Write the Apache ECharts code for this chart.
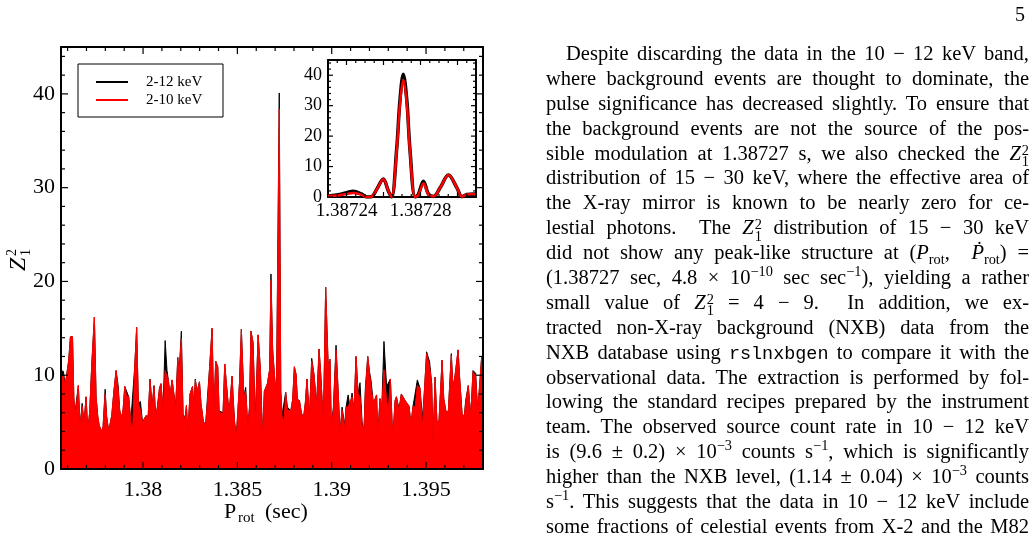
<!DOCTYPE html>
<html>
<head>
<meta charset="UTF-8">
<title>Z1^2 search around 1.387 s</title>
<script src="https://cdn.jsdelivr.net/npm/echarts@6/dist/echarts.min.js"></script>
<style>
  html, body { margin: 0; padding: 0; background: #fff; }
  #page { position: relative; width: 1036px; height: 543px; overflow: hidden; }
  #chart { position: absolute; left: 0; top: 0; width: 1036px; height: 543px; }
  #pageno { position: absolute; left: 1015px; top: 3px; font-family: "Liberation Serif", serif; font-size: 20px; }
  #text { position: absolute; left: 546px; top: 41px; width: 483px; font-family: "Liberation Serif", serif; font-size: 20.5px; color: #000; }
  #text .ln { height: 24.9px; line-height: 24.9px; white-space: nowrap; text-align: justify; text-align-last: justify; }
  #text .first { text-indent: 20px; }
  sup, sub { font-size: 0.7em; line-height: 0; }
  .z .ss { display: inline-block; font-size: 0.7em; line-height: 0.8em; vertical-align: -0.45em; margin-left: 1px; text-align: left; text-indent: 0; }
  .tt { font-family: "Liberation Mono", monospace; font-size: 0.9em; }
</style>
</head>
<body>
<div id="page">
  <div id="chart"></div>
  <div id="pageno">5</div>
  <div id="text">
    <div class="ln first">Despite discarding the data in the 10 − 12 keV band,</div>
    <div class="ln">where background events are thought to dominate, the</div>
    <div class="ln">pulse significance has decreased slightly. To ensure that</div>
    <div class="ln">the background events are not the source of the pos-</div>
    <div class="ln">sible modulation at 1.38727 s, we also checked the <span class="z"><i>Z</i><span class="ss">2<br>1</span></span></div>
    <div class="ln">distribution of 15 − 30 keV, where the effective area of</div>
    <div class="ln">the X-ray mirror is known to be nearly zero for ce-</div>
    <div class="ln">lestial photons.&nbsp; The <span class="z"><i>Z</i><span class="ss">2<br>1</span></span> distribution of 15 − 30 keV</div>
    <div class="ln">did not show any peak-like structure at (<i>P</i><sub>rot</sub>,&nbsp; <i>Ṗ</i><sub>rot</sub>) =</div>
    <div class="ln">(1.38727 sec, 4.8 × 10<sup>−10</sup> sec sec<sup>−1</sup>), yielding a rather</div>
    <div class="ln">small value of <span class="z"><i>Z</i><span class="ss">2<br>1</span></span> = 4 − 9.&nbsp; In addition, we ex-</div>
    <div class="ln">tracted non-X-ray background (NXB) data from the</div>
    <div class="ln">NXB database using <span class="tt">rslnxbgen</span> to compare it with the</div>
    <div class="ln">observational data. The extraction is performed by fol-</div>
    <div class="ln">lowing the standard recipes prepared by the instrument</div>
    <div class="ln">team. The observed source count rate in 10 − 12 keV</div>
    <div class="ln">is (9.6 ± 0.2) × 10<sup>−3</sup> counts s<sup>−1</sup>, which is significantly</div>
    <div class="ln">higher than the NXB level, (1.14 ± 0.04) × 10<sup>−3</sup> counts</div>
    <div class="ln">s<sup>−1</sup>. This suggests that the data in 10 − 12 keV include</div>
    <div class="ln">some fractions of celestial events from X-2 and the M82</div>
  </div>
</div>

<script>
    // main scan: trial period (s) and Z1^2
    var periods = [
        1.37567, 1.37578, 1.37587, 1.37597, 1.37606, 1.37615, 1.37626, 1.37633, 1.37638, 1.37647,
        1.37657, 1.37666, 1.37677, 1.37687, 1.37698, 1.37707, 1.37717, 1.37728, 1.37742, 1.37751,
        1.37760, 1.37767, 1.37779, 1.37788, 1.37799, 1.37807, 1.37818, 1.37827, 1.37834, 1.37845,
        1.37857, 1.37868, 1.37876, 1.37885, 1.37894, 1.37903, 1.37913, 1.37924, 1.37935, 1.37945,
        1.37956, 1.37966, 1.37975, 1.37986, 1.37997, 1.38005, 1.38016, 1.38027, 1.38037, 1.38048,
        1.38058, 1.38067, 1.38076, 1.38087, 1.38095, 1.38106, 1.38117, 1.38127,
        1.38134, 1.38143, 1.38154, 1.38164, 1.38173, 1.38184, 1.38191, 1.38203, 1.38212, 1.38223,
        1.38230, 1.38237, 1.38249, 1.38262, 1.38269, 1.38277, 1.38286, 1.38299, 1.38307, 1.38320,
        1.38332, 1.38343, 1.38353, 1.38366, 1.38375, 1.38385, 1.38396, 1.38403, 1.38413, 1.38424,
        1.38433, 1.38443, 1.38456, 1.38472, 1.38479, 1.38486, 1.38495, 1.38502, 1.38511, 1.38521,
        1.38534, 1.38544, 1.38555, 1.38564, 1.38572, 1.38583, 1.38595, 1.38610, 1.38622, 1.38633,
        1.38643, 1.38659, 1.38671,
        1.38678, 1.38687, 1.38698, 1.38707, 1.38722, 1.38730, 1.38737, 1.38747, 1.38756, 1.38765,
        1.38772, 1.38783, 1.38793, 1.38802, 1.38811, 1.38818, 1.38829, 1.38839, 1.38850, 1.38860,
        1.38869, 1.38882, 1.38894, 1.38906, 1.38920, 1.38933, 1.38942, 1.38949, 1.38956, 1.38968,
        1.38981, 1.38991, 1.38998, 1.39009, 1.39023, 1.39034, 1.39044, 1.39055, 1.39069, 1.39076,
        1.39087, 1.39097, 1.39108, 1.39118, 1.39129, 1.39140, 1.39150, 1.39161, 1.39171, 1.39178,
        1.39191, 1.39200, 1.39208, 1.39221, 1.39238,
        1.39244, 1.39256, 1.39265, 1.39277, 1.39291, 1.39300, 1.39311, 1.39322, 1.39329, 1.39336,
        1.39343, 1.39357, 1.39369, 1.39378, 1.39389, 1.39399, 1.39410, 1.39420, 1.39431, 1.39442,
        1.39454, 1.39468, 1.39481, 1.39491, 1.39503, 1.39519, 1.39530, 1.39537, 1.39548, 1.39558,
        1.39569, 1.39585, 1.39594, 1.39606, 1.39618, 1.39634, 1.39643, 1.39654, 1.39670, 1.39678,
        1.39691, 1.39703, 1.39710, 1.39724, 1.39737, 1.39749, 1.39763, 1.39774, 1.39784, 1.39795,
        1.39802
    ];
    // 2-12 keV (black)
    var z2Band212 = [
        10.5, 10.4, 8.9, 8.8, 11.6, 14.1, 14.1, 7.7, 5.7, 7.3,
        8.9, 4.5, 7.0, 4.9, 7.7, 4.0, 6.1, 11.1, 16.2, 7.7,
        5.6, 4.7, 4.0, 4.5, 8.5, 5.6, 4.0, 5.0, 5.7, 8.2,
        10.5, 8.9, 6.3, 5.4, 6.3, 8.8, 8.8, 7.7, 5.0, 5.0,
        11.0, 15.1, 7.0, 7.2, 5.0, 4.9, 5.7, 5.6, 9.6, 6.6,
        8.9, 5.6, 6.6, 8.6, 9.1, 6.3, 13.7, 10.5,
        9.5, 7.9, 9.5, 7.9, 6.8, 11.9, 10.2, 14.7, 5.9, 5.4,
        6.8, 3.8, 8.0, 8.8, 6.6, 9.6, 8.2, 9.3, 7.0, 5.0,
        4.8, 8.1, 10.9, 15.0, 5.6, 11.5, 10.9, 6.2, 6.2, 6.0,
        11.2, 8.8, 5.9, 9.9, 7.0, 4.8, 3.8, 6.0, 9.1, 14.9,
        7.7, 8.7, 4.5, 6.5, 14.7, 13.5, 5.3, 14.3, 10.6, 3.5,
        8.3, 9.1, 10.6,
        20.8, 12.7, 9.6, 7.7, 40.1, 8.4, 5.7, 5.5, 8.2, 6.6,
        6.4, 6.2, 7.4, 10.9, 10.1, 7.4, 7.3, 6.0, 5.4, 7.0,
        9.6, 5.4, 11.8, 10.1, 6.8, 12.8, 10.1, 7.4, 4.8, 19.4,
        11.2, 11.7, 4.4, 6.6, 13.2, 8.4, 3.8, 6.6, 4.6, 6.6,
        7.9, 6.6, 8.1, 6.1, 12.0, 8.0, 9.2, 5.0, 4.0, 8.5,
        12.0, 10.4, 9.5, 7.0, 7.9,
        3.4, 7.5, 6.3, 13.6, 8.8, 8.6, 9.6, 4.0, 4.9, 7.3,
        7.7, 6.4, 8.0, 7.9, 7.3, 7.3, 6.7, 4.7, 6.7, 8.0,
        9.5, 8.6, 5.4, 8.2, 12.5, 11.4, 9.1, 2.6, 9.8, 5.0,
        5.2, 11.6, 7.5, 6.1, 6.1, 12.3, 8.6, 10.0, 12.7, 9.8,
        5.9, 5.6, 7.3, 8.9, 5.6, 10.5, 10.2, 6.1, 8.9, 12.0,
        12.0
    ];
    // 2-10 keV (red)
    var z2Band210 = [
        10.0, 9.9, 8.9, 8.8, 11.6, 14.1, 14.1, 7.7, 5.7, 6.8,
        8.9, 4.5, 6.7, 4.9, 7.7, 4.0, 6.1, 11.1, 16.2, 7.7,
        5.6, 4.7, 4.0, 4.5, 8.0, 5.6, 4.0, 5.0, 5.7, 8.2,
        10.5, 8.4, 6.3, 5.4, 6.3, 8.8, 7.8, 7.7, 5.0, 4.3,
        11.0, 15.1, 7.0, 6.3, 5.0, 4.9, 5.7, 5.6, 9.5, 6.6,
        8.8, 5.6, 6.6, 8.6, 9.1, 6.3, 10.5, 10.5,
        9.5, 7.9, 9.5, 7.9, 6.5, 11.8, 10.2, 13.9, 5.9, 5.2,
        6.8, 3.8, 8.0, 8.8, 6.6, 9.5, 8.2, 9.3, 7.0, 5.0,
        4.8, 7.6, 10.9, 15.0, 5.6, 11.5, 10.9, 6.2, 5.9, 6.0,
        11.2, 8.8, 5.9, 9.9, 7.0, 4.8, 3.6, 6.0, 9.1, 14.9,
        7.7, 8.3, 4.5, 6.5, 14.7, 13.5, 5.0, 14.3, 10.6, 3.3,
        8.3, 9.1, 10.6,
        20.1, 12.7, 9.6, 7.7, 38.4, 8.4, 5.6, 5.0, 8.2, 6.3,
        6.2, 6.2, 7.4, 10.9, 10.1, 7.4, 7.3, 6.0, 5.4, 7.0,
        9.6, 5.4, 11.5, 10.1, 6.8, 12.8, 10.1, 7.4, 4.8, 19.4,
        11.2, 11.7, 4.4, 6.3, 12.7, 8.4, 3.8, 6.3, 4.3, 6.6,
        6.6, 6.6, 7.7, 6.1, 12.0, 8.0, 7.7, 4.7, 4.0, 8.0,
        12.0, 10.4, 8.8, 7.0, 7.9,
        3.4, 7.5, 6.3, 10.6, 7.3, 6.3, 9.6, 4.0, 4.9, 7.3,
        7.7, 6.2, 8.0, 7.9, 7.3, 7.3, 6.7, 4.7, 6.7, 6.6,
        8.9, 8.6, 4.5, 8.2, 12.3, 10.9, 9.1, 2.6, 9.8, 5.0,
        5.2, 11.6, 7.5, 6.1, 6.1, 12.1, 8.6, 10.0, 12.7, 9.8,
        5.9, 5.6, 7.0, 8.9, 5.6, 10.4, 9.9, 6.1, 8.9, 12.0,
        12.0
    ];

    // zoom on the peak (inset)
    var insetPeriods = [
        1.387230, 1.3872364, 1.3872409, 1.3872436, 1.3872481, 1.3872508, 1.3872535, 1.3872563, 1.3872599,
        1.3872626, 1.3872644, 1.3872671, 1.3872689, 1.3872707, 1.3872726, 1.3872743, 1.3872771, 1.3872788,
        1.3872816, 1.3872843, 1.3872870, 1.3872906, 1.3872951, 1.3872997, 1.3873024, 1.3873051, 1.3873096
    ];
    var insetBand212 = [
        0.3, 0.8, 1.6, 1.9, 1.0, 0.0, 0.1, 2.5, 5.9,
        2.0, 0.0, 15.6, 31.8, 40.3, 31.8, 15.6, 0.0, 0.8,
        5.2, 1.0, 0.2, 3.0, 7.2, 3.0, 0.1, 0.8, 1.0
    ];
    var insetBand210 = [
        0.3, 0.6, 1.1, 1.3, 0.7, 0.0, 0.1, 2.4, 5.8,
        2.0, 0.0, 15.1, 30.6, 38.5, 30.6, 15.1, 0.0, 0.6,
        4.4, 0.8, 0.2, 3.0, 7.2, 3.0, 0.1, 0.8, 1.0
    ];

    // ticks
    var xMajor = [1.38, 1.385, 1.39, 1.395];
    var xMinor = [1.376, 1.377, 1.378, 1.379, 1.381, 1.382, 1.383, 1.384, 1.386, 1.387,
                  1.388, 1.389, 1.391, 1.392, 1.393, 1.394, 1.396, 1.397, 1.398];
    var yMajor = [0, 10, 20, 30, 40];
    var yMinor = [2, 4, 6, 8, 12, 14, 16, 18, 22, 24, 26, 28, 32, 34, 36, 38, 42, 44];
    var insetXLabels = [1.38724, 1.38728];
    var insetXMajor = [1.38724, 1.38726, 1.38728, 1.3873];
    var insetXMinor = [1.387235, 1.387245, 1.38725, 1.387255, 1.387265, 1.38727, 1.387275,
                       1.387285, 1.38729, 1.387295, 1.387305];

    function pairs(xs, ys) {
        var out = [];
        for (var i = 0; i < xs.length; i++) out.push([xs[i], ys[i]]);
        return out;
    }
    function withLen(vals, len) {
        return vals.map(function (v) { return [v, len]; });
    }

    var serif = 'Liberation Serif';
    var black = '#000';

    // frame side (line + optional labels); ticks are drawn by the tick series below
    function axis(grid, pos, min, max, labels, size, margin) {
        return {
            type: 'value', gridIndex: grid, position: pos, min: min, max: max, z: 5,
            axisLine: { show: true, onZero: false, lineStyle: { color: black, width: 2 } },
            axisTick: { show: false },
            axisLabel: labels ? {
                show: true, customValues: labels, fontFamily: serif, fontSize: size,
                color: black, margin: margin,
                formatter: function (v) { return String(v); }
            } : { show: false },
            splitLine: { show: false }
        };
    }

    // inward ticks on both opposite sides, positioned through the axis scale
    function tickSeries(xi, yi, dir, ticks, anyX) {
        return {
            type: 'custom', xAxisIndex: xi, yAxisIndex: yi, z: 6, silent: true,
            data: ticks,
            renderItem: function (params, api) {
                var cs = params.coordSys;
                var v = api.value(0), len = api.value(1);
                var st = { stroke: black, lineWidth: 1.2 };
                if (dir === 'x') {
                    var px = api.coord([v, 0])[0];
                    var b = cs.y + cs.height, t = cs.y;
                    return { type: 'group', children: [
                        { type: 'line', shape: { x1: px, y1: b, x2: px, y2: b - len }, style: st },
                        { type: 'line', shape: { x1: px, y1: t, x2: px, y2: t + len }, style: st }
                    ] };
                }
                var py = api.coord([anyX, v])[1];
                var l = cs.x, r = cs.x + cs.width;
                return { type: 'group', children: [
                    { type: 'line', shape: { x1: l, y1: py, x2: l + len, y2: py }, style: st },
                    { type: 'line', shape: { x1: r, y1: py, x2: r - len, y2: py }, style: st }
                ] };
            }
        };
    }

    var xMin = 1.37565, xMax = 1.39802;
    var ixMin = 1.38723, ixMax = 1.38731;

    var chart = echarts.init(document.getElementById('chart'), null, { renderer: 'canvas' });

    var option = {
        animation: false,
        grid: [
            { left: 61, top: 47, width: 422, height: 422, containLabel: false },
            { left: 328, top: 60, width: 148, height: 137, containLabel: false,
              show: true, backgroundColor: '#fff', borderWidth: 0 }
        ],
        xAxis: [
            axis(0, 'bottom', xMin, xMax, xMajor, 22, 10),
            axis(0, 'top', xMin, xMax, null),
            axis(1, 'bottom', ixMin, ixMax, insetXLabels, 19, 5),
            axis(1, 'top', ixMin, ixMax, null)
        ],
        yAxis: [
            axis(0, 'left', 0, 45, yMajor, 22, 6),
            axis(0, 'right', 0, 45, null),
            axis(1, 'left', 0, 45, yMajor, 18, 6),
            axis(1, 'right', 0, 45, null)
        ],
        series: [
            {
                name: '2-12 keV', type: 'line', xAxisIndex: 0, yAxisIndex: 0,
                data: pairs(periods, z2Band212), symbol: 'none',
                lineStyle: { color: black, width: 1 },
                areaStyle: { color: black, opacity: 1 }, z: 2
            },
            {
                name: '2-10 keV', type: 'line', xAxisIndex: 0, yAxisIndex: 0,
                data: pairs(periods, z2Band210), symbol: 'none',
                lineStyle: { color: '#ff0000', width: 1 },
                areaStyle: { color: '#ff0000', opacity: 1 }, z: 3
            },
            {
                name: '2-12 keV', type: 'line', xAxisIndex: 2, yAxisIndex: 2,
                data: pairs(insetPeriods, insetBand212), symbol: 'none', smooth: 0.35,
                lineStyle: { color: black, width: 3.5 }, z: 4
            },
            {
                name: '2-10 keV', type: 'line', xAxisIndex: 2, yAxisIndex: 2,
                data: pairs(insetPeriods, insetBand210), symbol: 'none', smooth: 0.35,
                lineStyle: { color: '#ff0000', width: 2.5 }, z: 5
            },
            tickSeries(0, 0, 'x', withLen(xMajor, 7).concat(withLen(xMinor, 4))),
            tickSeries(0, 0, 'y', withLen(yMajor, 7).concat(withLen(yMinor, 4)), xMin),
            tickSeries(2, 2, 'x', withLen(insetXMajor, 5).concat(withLen(insetXMinor, 3))),
            tickSeries(2, 2, 'y', withLen(yMajor, 5).concat(withLen(yMinor, 3)), ixMin)
        ],
        graphic: [
            // legend box
            { type: 'rect', shape: { x: 78, y: 64, width: 145, height: 53 },
              style: { fill: '#fff', stroke: black, lineWidth: 1 }, z: 10 },
            { type: 'line', shape: { x1: 96, y1: 82, x2: 128, y2: 82 },
              style: { stroke: black, lineWidth: 2 }, z: 11 },
            { type: 'line', shape: { x1: 96, y1: 100, x2: 128, y2: 100 },
              style: { stroke: '#ff0000', lineWidth: 2 }, z: 11 },
            { type: 'text', x: 146, y: 82, z: 11,
              style: { text: '2-12 keV', font: '15px "Liberation Serif"', fill: black,
                       textVerticalAlign: 'middle', verticalAlign: 'middle' } },
            { type: 'text', x: 146, y: 100, z: 11,
              style: { text: '2-10 keV', font: '15px "Liberation Serif"', fill: black,
                       textVerticalAlign: 'middle', verticalAlign: 'middle' } },
            // y title  Z_1^2
            { type: 'group', x: 19, y: 271, rotation: Math.PI / 2, z: 11,
              children: [
                { type: 'text', x: 0, y: 0,
                  style: { text: 'Z', font: 'italic 24px "Liberation Serif"', fill: black,
                           textVerticalAlign: 'middle', verticalAlign: 'middle' } },
                { type: 'text', x: 15, y: -7,
                  style: { text: '2', font: '14px "Liberation Serif"', fill: black,
                           textVerticalAlign: 'middle', verticalAlign: 'middle' } },
                { type: 'text', x: 15, y: 7,
                  style: { text: '1', font: '14px "Liberation Serif"', fill: black,
                           textVerticalAlign: 'middle', verticalAlign: 'middle' } }
              ] },
            // x title  P_rot (sec)
            { type: 'text', x: 224, y: 512, z: 11,
              style: { text: 'P', font: '22px "Liberation Serif"', fill: black,
                       textVerticalAlign: 'middle', verticalAlign: 'middle' } },
            { type: 'text', x: 238, y: 518, z: 11,
              style: { text: 'rot', font: '15px "Liberation Serif"', fill: black,
                       textVerticalAlign: 'middle', verticalAlign: 'middle' } },
            { type: 'text', x: 265, y: 512, z: 11,
              style: { text: '(sec)', font: '22px "Liberation Serif"', fill: black,
                       textVerticalAlign: 'middle', verticalAlign: 'middle' } }
        ]
    };
    chart.setOption(option);
</script>
</body>
</html>
